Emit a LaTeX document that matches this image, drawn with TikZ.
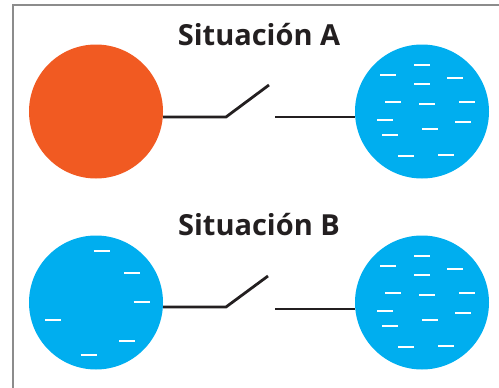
\documentclass[tikz,border=0pt]{standalone}
\usepackage{fontspec}
\setmainfont{Open Sans}
\definecolor{hot}{HTML}{F15A22}
\definecolor{cold}{HTML}{00AEEF}
\definecolor{ink}{HTML}{231F20}
\definecolor{frame}{HTML}{8C8C8C}
\begin{document}
\begin{tikzpicture}[x=1pt,y=-1pt,
  ball/.style={circle,minimum size=134pt,inner sep=0pt,draw=none},
  wire/.style={draw=ink,line width=2.8pt},
  charge/.style={draw=white,line width=2.2pt},
  title/.style={font=\fontsize{29}{32}\selectfont\bfseries,text=ink,inner sep=0pt}]
\useasboundingbox (0,0) rectangle (499,388);
\draw[frame,line width=1.2pt] (13,388) -- (13,5) -- (499,5);
% titles
\node[title] (tA) at (259,35) {Situación A};
\node[title] (tB) at (259,225) {Situación B};
% situation A
\node[ball,fill=hot] (a1) at (96,111.5) {};
\node[ball,fill=cold] (a2) at (422,111.5) {};
\coordinate (ap) at (226,117);
\coordinate (aq) at (269,85);
\coordinate (ar) at (275,117);
\draw[wire] (a1.east |- ap) -- (ap) -- (aq);
\draw[wire] (ar) -- (a2.west |- ar);
% situation B
\node[ball,fill=cold] (b1) at (96,302.5) {};
\node[ball,fill=cold] (b2) at (422,302.5) {};
\coordinate (bp) at (226,307);
\coordinate (bq) at (268,276);
\coordinate (br) at (275,309);
\draw[wire] (b1.east |- bp) -- (bp) -- (bq);
\draw[wire] (br) -- (b2.west |- br);
% charges in right spheres
\foreach \dy in {0,191}{
  \foreach \x/\y in {414/65,380/75,447/77.7,414/83.7,385/102.3,419/103.7,459/102.3,
                     377/120.3,455/121.7,422/129,382/135.3,398/156,438/155}{
    \draw[charge] (\x,\y+\dy) -- ++(16,0);
  }
}
% charges in left sphere B
\foreach \x/\y in {93.7/250.7,124/273,133.7/301.7,45.3/320.3,119.3/341,80.7/355.3}{
  \draw[charge] (\x,\y) -- ++(16,0);
}
\end{tikzpicture}
\end{document}
